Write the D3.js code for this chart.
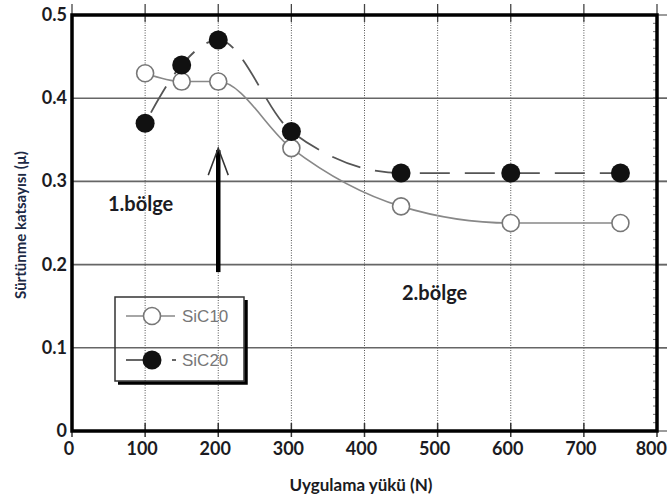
<!DOCTYPE html>
<html>
<head>
<meta charset="utf-8">
<script src="https://cdn.jsdelivr.net/npm/d3@7"></script>
<style>
	body { margin: 0; background: #fff; }
	svg { display: block; }
	.tick-label { font-family: Lato, "Open Sans", sans-serif; font-weight: bold; fill: #1b1b22; }
</style>
</head>
<body>
<svg width="668" height="501"></svg>
<script>
// data
var loads = [100, 150, 200, 300, 450, 600, 750];
var sic10 = [0.43, 0.42, 0.42, 0.34, 0.27, 0.25, 0.25];
var sic20 = [0.37, 0.44, 0.47, 0.36, 0.31, 0.31, 0.31];
var xTicks = [0, 100, 200, 300, 400, 500, 600, 700, 800];
var yTicks = [0, 0.1, 0.2, 0.3, 0.4, 0.5];
var yTickLabels = ["0", "0.1", "0.2", "0.3", "0.4", "0.5"];
var seriesNames = ["SiC10", "SiC20"];
var arrow = {x: 200, from: 0.191, to: 0.34};

var svg = d3.select("svg"),
	width = +svg.attr("width"),
	height = +svg.attr("height");

var x = d3.scaleLinear().domain([0, 800]).range([72, 657]);
var y = d3.scaleLinear().domain([0, 0.5]).range([431, 15]);

// grid
svg.selectAll(".vgrid")
	.data(xTicks.slice(1, -1))
	.enter().append("line")
	.attr("class", "vgrid")
	.attr("x1", function (d) { return x(d); })
	.attr("x2", function (d) { return x(d); })
	.attr("y1", y(0.5)).attr("y2", y(0))
	.attr("stroke", "#555").attr("stroke-width", 1)
	.attr("stroke-dasharray", "1,1.5");

svg.selectAll(".hgrid")
	.data(yTicks.slice(1, -1))
	.enter().append("line")
	.attr("class", "hgrid")
	.attr("x1", x(0)).attr("x2", x(800) + 10)
	.attr("y1", function (d) { return y(d); })
	.attr("y2", function (d) { return y(d); })
	.attr("stroke", "#666").attr("stroke-width", 1.6);

// tick marks sticking out
svg.selectAll(".ttick")
	.data(xTicks)
	.enter().append("line")
	.attr("x1", function (d) { return x(d); })
	.attr("x2", function (d) { return x(d); })
	.attr("y1", 4).attr("y2", y(0.5) + 7)
	.attr("stroke", "#444").attr("stroke-width", 1.3);

svg.selectAll(".btick")
	.data(xTicks)
	.enter().append("line")
	.attr("x1", function (d) { return x(d); })
	.attr("x2", function (d) { return x(d); })
	.attr("y1", y(0) - 8).attr("y2", y(0) + 6)
	.attr("stroke", "#333").attr("stroke-width", 1.5);

svg.selectAll(".rtick")
	.data(yTicks)
	.enter().append("line")
	.attr("x1", x(800) - 4).attr("x2", x(800) + 10)
	.attr("y1", function (d) { return y(d); })
	.attr("y2", function (d) { return y(d); })
	.attr("stroke", "#666").attr("stroke-width", 1.3);

// minor ticks on the right edge
svg.selectAll(".mtick")
	.data(d3.range(0, 0.5, 0.01))
	.enter().append("line")
	.attr("x1", x(800) - 4).attr("x2", x(800))
	.attr("y1", function (d) { return y(d); })
	.attr("y2", function (d) { return y(d); })
	.attr("stroke", "#777").attr("stroke-width", 1);

// frame
svg.append("rect")
	.attr("x", x(0)).attr("y", y(0.5))
	.attr("width", x(800) - x(0)).attr("height", y(0) - y(0.5))
	.attr("fill", "none").attr("stroke", "#000").attr("stroke-width", 3.5);

// axis labels
svg.selectAll(".xlab")
	.data(xTicks)
	.enter().append("text")
	.attr("class", "tick-label")
	.attr("x", function (d, i) { return i == xTicks.length - 1 ? width - 1 : x(d) - 3; })
	.attr("y", 455)
	.attr("text-anchor", function (d, i) { return i == xTicks.length - 1 ? "end" : "middle"; })
	.attr("font-size", 18)
	.text(function (d) { return d; });

svg.selectAll(".ylab")
	.data(yTicks)
	.enter().append("text")
	.attr("class", "tick-label")
	.attr("x", 67)
	.attr("y", function (d) { return y(d) + 6; })
	.attr("text-anchor", "end")
	.attr("font-size", 18)
	.text(function (d, i) { return yTickLabels[i]; });

svg.append("text")
	.attr("class", "tick-label")
	.attr("x", 361).attr("y", 491)
	.attr("text-anchor", "middle")
	.attr("font-size", 17)
	.text("Uygulama yükü (N)");

svg.append("text")
	.attr("class", "tick-label")
	.attr("transform", "translate(26,225) rotate(-90)")
	.attr("text-anchor", "middle")
	.attr("font-size", 15)
	.style("fill", "#1d2a45")
	.text("Sürtünme katsayısı (µ)");

// region labels
svg.append("text")
	.attr("class", "tick-label")
	.attr("x", 108).attr("y", 211)
	.attr("font-size", 20)
	.text("1.bölge");

svg.append("text")
	.attr("class", "tick-label")
	.attr("x", 402).attr("y", 300)
	.attr("font-size", 20)
	.text("2.bölge");

// arrow
svg.append("line")
	.attr("x1", x(arrow.x)).attr("x2", x(arrow.x))
	.attr("y1", y(arrow.from)).attr("y2", y(arrow.to) + 2)
	.attr("stroke", "#000").attr("stroke-width", 4.5);
svg.append("path")
	.attr("d", "M" + (x(arrow.x) - 10) + "," + (y(arrow.to) + 27) +
		"L" + x(arrow.x) + "," + y(arrow.to) +
		"L" + (x(arrow.x) + 10) + "," + (y(arrow.to) + 27))
	.attr("fill", "none").attr("stroke", "#333").attr("stroke-width", 1.5);

// lines
var pts10 = loads.map(function (d, i) { return [d, sic10[i]]; });
var pts20 = loads.map(function (d, i) { return [d, sic20[i]]; });

var line = d3.line()
	.x(function (d) { return x(d[0]); })
	.y(function (d) { return y(d[1]); })
	.curve(d3.curveMonotoneX);

svg.append("path")
	.attr("d", line(pts10))
	.attr("fill", "none").attr("stroke", "#888").attr("stroke-width", 1.6);

svg.append("path")
	.attr("d", line(pts20))
	.attr("fill", "none").attr("stroke", "#555").attr("stroke-width", 1.8)
	.attr("stroke-dasharray", "30,15")
	.attr("stroke-dashoffset", -12);

// markers
svg.selectAll(".m10")
	.data(pts10)
	.enter().append("circle")
	.attr("cx", function (d) { return x(d[0]); })
	.attr("cy", function (d) { return y(d[1]); })
	.attr("r", 8.5)
	.attr("fill", "#fff").attr("stroke", "#777").attr("stroke-width", 1.6);

svg.selectAll(".m20")
	.data(pts20)
	.enter().append("circle")
	.attr("cx", function (d) { return x(d[0]); })
	.attr("cy", function (d) { return y(d[1]); })
	.attr("r", 9.5)
	.attr("fill", "#111");

// legend (transparent box with shadow)
var lg = svg.append("g").attr("transform", "translate(115,297)");
lg.append("path")
	.attr("d", "M131,3V86H3")
	.attr("fill", "none").attr("stroke", "#000").attr("stroke-width", 3.5);
lg.append("rect")
	.attr("width", 129).attr("height", 84)
	.attr("fill", "none").attr("stroke", "#333").attr("stroke-width", 1.5);

lg.append("line").attr("x1", 11).attr("x2", 60).attr("y1", 19).attr("y2", 19)
	.attr("stroke", "#888").attr("stroke-width", 1.6);
lg.append("circle").attr("cx", 37).attr("cy", 19).attr("r", 8.5)
	.attr("fill", "#fff").attr("stroke", "#777").attr("stroke-width", 1.6);
lg.append("line").attr("x1", 11).attr("x2", 30).attr("y1", 63).attr("y2", 63)
	.attr("stroke", "#555").attr("stroke-width", 1.8);
lg.append("line").attr("x1", 57).attr("x2", 61).attr("y1", 63).attr("y2", 63)
	.attr("stroke", "#555").attr("stroke-width", 1.8);
lg.append("circle").attr("cx", 37).attr("cy", 63).attr("r", 9.5)
	.attr("fill", "#111");

lg.selectAll(".lt")
	.data(seriesNames)
	.enter().append("text")
	.attr("x", 67)
	.attr("y", function (d, i) { return 25 + i * 44; })
	.attr("font-family", "Liberation Sans, Arial, sans-serif")
	.attr("font-size", 17)
	.attr("fill", "#777")
	.text(function (d) { return d; });
</script>
</body>
</html>
